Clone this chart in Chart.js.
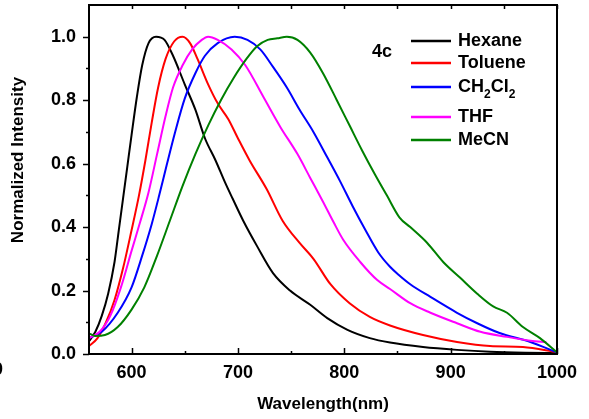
<!DOCTYPE html>
<html>
<head>
<meta charset="utf-8">
<script src="https://cdn.jsdelivr.net/npm/chart.js@4"></script>
<style>
  html, body { margin: 0; padding: 0; background: #fff; }
  #wrap { width: 589px; height: 419px; }
</style>
</head>
<body>
<div id="wrap"><canvas id="emissionChart" width="589" height="419"></canvas></div>
<script>
// emission spectra of 4c in different solvents
const seriesLabels = ['Hexane', 'Toluene', 'CH2Cl2', 'THF', 'MeCN'];
const seriesColors = ['#000000', '#ff0000', '#0000ff', '#ff00ff', '#008000'];

const hexaneX = [560, 566, 572, 578, 584, 588, 592, 596, 600, 605, 610, 616, 623, 631, 639, 650, 660, 669, 679, 688, 695, 705, 718, 733, 749, 768, 784, 803, 824, 843, 874, 906, 937, 970, 1000];
const hexaneY = [0.04, 0.07, 0.12, 0.19, 0.29, 0.39, 0.49, 0.59, 0.69, 0.81, 0.91, 0.98, 1.00, 0.99, 0.94, 0.85, 0.77, 0.68, 0.61, 0.54, 0.49, 0.42, 0.34, 0.255, 0.20, 0.155, 0.113, 0.076, 0.05, 0.036, 0.022, 0.013, 0.007, 0.004, 0.003];

const tolueneX = [560, 568, 576, 584, 592, 600, 607, 613, 619, 625, 632, 640, 648, 655, 662, 672, 681, 691, 700, 711, 727, 742, 758, 771, 787, 805, 824, 843, 874, 906, 937, 968, 1000];
const tolueneY = [0.025, 0.05, 0.10, 0.17, 0.27, 0.39, 0.50, 0.61, 0.73, 0.84, 0.93, 0.985, 1.00, 0.98, 0.93, 0.85, 0.79, 0.74, 0.68, 0.61, 0.52, 0.42, 0.35, 0.30, 0.22, 0.16, 0.117, 0.09, 0.06, 0.038, 0.025, 0.022, 0.006];

const dcmX = [560, 572, 587, 600, 610, 619, 626, 633, 641, 650, 660, 669, 681, 697, 709, 721, 733, 746, 758, 771, 784, 796, 808, 820, 832, 843, 851, 862, 881, 906, 925, 946, 975, 1000];
const dcmY = [0.05, 0.07, 0.13, 0.21, 0.31, 0.41, 0.50, 0.595, 0.70, 0.805, 0.885, 0.94, 0.98, 1.00, 0.99, 0.96, 0.905, 0.84, 0.77, 0.70, 0.62, 0.545, 0.465, 0.39, 0.32, 0.275, 0.25, 0.22, 0.18, 0.13, 0.097, 0.066, 0.038, 0.005];

const thfX = [560, 570, 580, 590, 600, 608, 616, 624, 632, 639, 648, 657, 666, 672, 681, 694, 707, 724, 740, 756, 768, 780, 790, 799, 815, 831, 843, 862, 881, 906, 928, 953, 975, 990];
const thfY = [0.05, 0.07, 0.12, 0.21, 0.325, 0.415, 0.51, 0.63, 0.75, 0.84, 0.91, 0.96, 0.99, 1.00, 0.99, 0.96, 0.91, 0.81, 0.715, 0.63, 0.555, 0.48, 0.415, 0.36, 0.29, 0.233, 0.205, 0.16, 0.13, 0.097, 0.07, 0.054, 0.042, 0.037];

const mecnX = [560, 566, 575, 587, 600, 612, 624, 636, 648, 660, 672, 684, 696, 708, 718, 728, 737, 746, 756, 768, 780, 793, 805, 817, 829, 840, 852, 862, 878, 893, 909, 925, 940, 953, 968, 984, 1000];
const mecnY = [0.065, 0.057, 0.06, 0.085, 0.14, 0.21, 0.31, 0.42, 0.53, 0.63, 0.72, 0.80, 0.87, 0.93, 0.97, 0.99, 0.995, 1.00, 0.99, 0.95, 0.885, 0.80, 0.72, 0.64, 0.565, 0.50, 0.43, 0.40, 0.35, 0.29, 0.24, 0.19, 0.15, 0.13, 0.085, 0.05, 0.005];

const xTicks = [600, 700, 800, 900, 1000];
const xMinorTicks = [650, 750, 850, 950];
const yTicks = [0.0, 0.2, 0.4, 0.6, 0.8, 1.0];
const yMinorTicks = [0.1, 0.3, 0.5, 0.7, 0.9];

const FONT = 'Liberation Sans, Arial, sans-serif';

function toPoints(xs, ys) {
  return xs.map((x, i) => ({ x: x, y: ys[i] }));
}

const allX = [hexaneX, tolueneX, dcmX, thfX, mecnX];
const allY = [hexaneY, tolueneY, dcmY, thfY, mecnY];

const datasets = seriesLabels.map((label, i) => ({
  label: label,
  data: toPoints(allX[i], allY[i]),
  borderColor: seriesColors[i],
  backgroundColor: seriesColors[i],
  borderWidth: 2,
  pointRadius: 0,
  fill: false,
  cubicInterpolationMode: 'monotone',
  order: seriesLabels.length - i // later solvents on top, like the original
}));

// frame, inward/outward ticks, legend and annotations
const decorPlugin = {
  id: 'decor',
  afterDraw(chart) {
    const ctx = chart.ctx;
    const area = chart.chartArea;
    const xs = chart.scales.x;
    const ys = chart.scales.y;
    ctx.save();
    ctx.strokeStyle = '#000';
    ctx.lineWidth = 2;
    ctx.strokeRect(area.left, area.top, area.right - area.left, area.bottom - area.top);

    ctx.lineWidth = 1.5;
    ctx.beginPath();
    xTicks.forEach(v => {
      const px = Math.round(xs.getPixelForValue(v)) + 0.5;
      ctx.moveTo(px, area.bottom); ctx.lineTo(px, area.bottom - 6);
      ctx.moveTo(px, area.top); ctx.lineTo(px, area.top + 4);
    });
    xMinorTicks.forEach(v => {
      const px = Math.round(xs.getPixelForValue(v)) + 0.5;
      ctx.moveTo(px, area.bottom); ctx.lineTo(px, area.bottom - 3);
      ctx.moveTo(px, area.top); ctx.lineTo(px, area.top + 4);
    });
    yTicks.forEach(v => {
      const py = Math.round(ys.getPixelForValue(v)) + 0.5;
      ctx.moveTo(area.left, py); ctx.lineTo(area.left - 6, py);
    });
    yMinorTicks.forEach(v => {
      const py = Math.round(ys.getPixelForValue(v)) + 0.5;
      ctx.moveTo(area.left, py); ctx.lineTo(area.left - 3, py);
    });
    ctx.stroke();

    // y axis title
    ctx.fillStyle = '#000';
    ctx.font = 'bold 17px ' + FONT;
    ctx.textAlign = 'center';
    ctx.textBaseline = 'middle';
    ctx.save();
    ctx.translate(18, 160);
    ctx.rotate(-Math.PI / 2);
    ctx.fillText('Normalized Intensity', 0, 0);
    ctx.restore();

    // sample label
    ctx.font = 'bold 18px ' + FONT;
    ctx.textAlign = 'left';
    ctx.fillText('4c', 372, 52);

    // stray clipped label at the left edge
    ctx.textAlign = 'right';
    ctx.fillText('0', 3, 370);

    // legend
    const rowY = [41, 63, 87, 117, 140];
    chart.data.datasets.forEach((ds, i) => {
      const y = rowY[i];
      ctx.strokeStyle = ds.borderColor;
      ctx.lineWidth = 2.5;
      ctx.beginPath();
      ctx.moveTo(411, y);
      ctx.lineTo(451, y);
      ctx.stroke();
      let x = 458;
      ctx.textAlign = 'left';
      ctx.textBaseline = 'middle';
      // digits become subscripts (CH2Cl2)
      const parts = ds.label.match(/\d+|\D+/g);
      parts.forEach(p => {
        if (/^\d+$/.test(p)) {
          ctx.font = 'bold 12px ' + FONT;
          ctx.fillText(p, x, y + 8);
        } else {
          ctx.font = 'bold 18px ' + FONT;
          ctx.fillText(p, x, y);
        }
        x += ctx.measureText(p).width;
      });
    });
    ctx.restore();
  }
};

new Chart(document.getElementById('emissionChart'), {
  type: 'line',
  data: { datasets: datasets },
  options: {
    responsive: false,
    animation: false,
    events: [],
    layout: { padding: { top: 5, right: 32, left: 0, bottom: 0 } },
    plugins: {
      legend: { display: false },
      tooltip: { enabled: false }
    },
    scales: {
      x: {
        type: 'linear',
        min: 560,
        max: 1000,
        afterFit(scale) {
          scale.height = 65;
          scale.paddingLeft = 0;
          scale.paddingRight = 0;
        },
        afterBuildTicks(scale) { scale.ticks = xTicks.map(v => ({ value: v })); },
        grid: { display: false, drawTicks: false },
        border: { display: false },
        ticks: {
          color: '#000',
          padding: 8,
          maxRotation: 0,
          autoSkip: false,
          callback: v => String(v),
          font: { family: FONT, size: 18, weight: 'bold' }
        },
        title: {
          display: true,
          text: 'Wavelength(nm)',
          color: '#000',
          padding: { top: 0, bottom: 4 },
          font: { family: FONT, size: 17, weight: 'bold' }
        }
      },
      y: {
        min: 0,
        max: 1.1,
        afterFit(scale) {
          scale.width = 89;
          scale.paddingTop = 0;
          scale.paddingBottom = 0;
        },
        afterBuildTicks(scale) { scale.ticks = yTicks.map(v => ({ value: v })); },
        grid: { display: false, drawTicks: false },
        border: { display: false },
        ticks: {
          color: '#000',
          padding: 13,
          autoSkip: false,
          callback: v => Number(v).toFixed(1),
          font: { family: FONT, size: 18, weight: 'bold' }
        }
      }
    }
  },
  plugins: [decorPlugin]
});
</script>
</body>
</html>
